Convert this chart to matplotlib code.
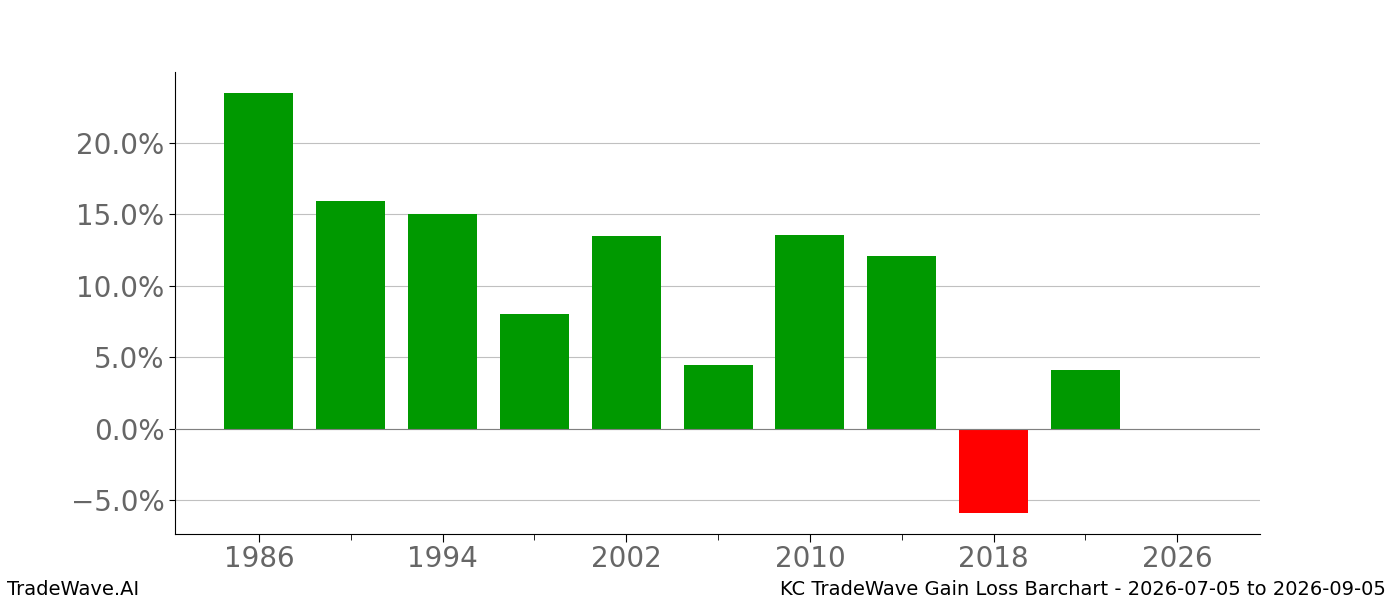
import matplotlib
matplotlib.use('Agg')
import matplotlib.pyplot as plt
from matplotlib.ticker import FuncFormatter, MultipleLocator

years = [1986, 1990, 1994, 1998, 2002, 2006, 2010, 2014, 2018, 2022]
gains = [23.5, 15.9, 15.0, 8.0, 13.45, 4.5, 13.55, 12.1, -5.85, 4.15]
colors = ['#009900' if g >= 0 else '#ff0000' for g in gains]

fig = plt.figure(figsize=(14, 6), dpi=100)
ax = fig.add_subplot(111)
fig.subplots_adjust(left=0.125, right=0.9, top=0.88, bottom=0.11)

ax.bar(years, gains, width=3, color=colors, zorder=3)
ax.axhline(0, color='gray', linewidth=0.8, zorder=4)

ax.set_xlim(1982.35, 2029.6)
ax.set_ylim(-7.35, 24.95)
ax.xaxis.set_major_locator(MultipleLocator(8, offset=2))
ax.xaxis.set_minor_locator(MultipleLocator(4, offset=2))
ax.yaxis.set_major_locator(MultipleLocator(5))
ax.yaxis.set_major_formatter(FuncFormatter(lambda v, p: '%.1f%%' % v if v >= 0 else '\u2212%.1f%%' % -v))

ax.yaxis.grid(color='#c0c0c0', linewidth=0.8, zorder=0)
ax.spines['top'].set_visible(False)
ax.spines['right'].set_visible(False)
ax.tick_params(axis='both', labelsize=20, labelcolor='#666666', length=4)
ax.tick_params(axis='x', which='major', length=6, pad=2)
ax.tick_params(axis='x', which='minor', length=4)

fig.text(0.005, 0.008, 'TradeWave.AI', fontsize=14)
fig.text(0.99, 0.008, 'KC TradeWave Gain Loss Barchart - 2026-07-05 to 2026-09-05', fontsize=14, ha='right')

plt.savefig('out.png')
